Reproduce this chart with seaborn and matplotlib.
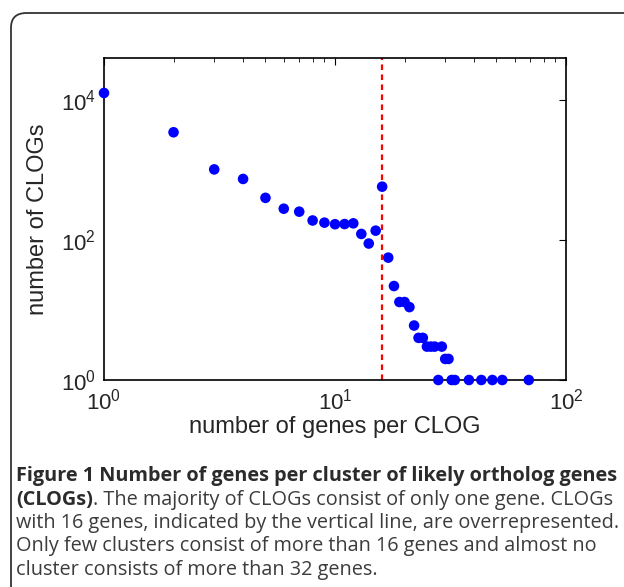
import numpy as np
import pandas as pd
import matplotlib
matplotlib.use('Agg')
import matplotlib.pyplot as plt
import seaborn as sns
from matplotlib.patches import FancyBboxPatch

# genes per CLOG vs number of CLOGs
genes_per_clog = [1, 2, 3, 4, 5, 6, 7, 8, 9, 10, 11, 12, 13, 14, 15, 16, 17, 18,
                  19, 20, 21, 22, 23, 24, 25, 26, 27, 29, 30, 31,
                  28, 32, 33, 38, 43, 48, 53, 69]
n_clogs = [12600, 3460, 1020, 745, 400, 280, 254, 190, 177, 168, 169, 173, 122, 89, 136, 578, 56, 22,
           13, 13, 11, 6, 4, 4, 3, 3, 3, 3, 2, 2,
           1, 1, 1, 1, 1, 1, 1, 1]
cutoff = 16

caption_lines = [
    [("Figure 1 Number of genes per cluster of likely ortholog genes", "bold")],
    [("(CLOGs)", "bold"), (". The majority of CLOGs consist of only one gene. CLOGs", "normal")],
    [("with 16 genes, indicated by the vertical line, are overrepresented.", "normal")],
    [("Only few clusters consist of more than 16 genes and almost no", "normal")],
    [("cluster consists of more than 32 genes.", "normal")],
]

df = pd.DataFrame({'genes': genes_per_clog, 'clogs': n_clogs})

sns.set_style("white")
plt.rcParams['font.family'] = ['Liberation Sans', 'DejaVu Sans']
plt.rcParams['mathtext.fontset'] = 'custom'
plt.rcParams['mathtext.rm'] = 'Liberation Sans'
plt.rcParams['mathtext.it'] = 'Liberation Sans'

fig = plt.figure(figsize=(6.24, 5.87), dpi=100)
fig.patch.set_facecolor('white')

# rounded frame around the figure
frame = FancyBboxPatch((11 / 624, -0.1), 1.2, 1.1 - 13 / 587,
                       boxstyle="round,pad=0,rounding_size=0.025",
                       transform=fig.transFigure, fill=False,
                       edgecolor='#333333', linewidth=1.3)
fig.patches.append(frame)

ax = fig.add_axes([104 / 624, 1 - 380 / 587, 462 / 624, 322 / 587])
ax.set_xscale('log')
ax.set_yscale('log')

ax.axvline(cutoff, color='red', linestyle=(0, (2.5, 2)), linewidth=1.6, zorder=1)
sns.scatterplot(data=df, x='genes', y='clogs', ax=ax, color='blue',
                s=58, edgecolor='none', zorder=3, clip_on=False, legend=False)

ax.set_xlim(1, 100)
ax.set_ylim(1, 10 ** 4.6)
ax.set_yticks([1, 100, 10000])
ax.set_xticks([1, 10, 100])
ax.yaxis.set_minor_locator(matplotlib.ticker.NullLocator())

for s in ax.spines.values():
    s.set_color('black')
    s.set_linewidth(1.2)
ax.tick_params(which='both', direction='in', top=True, right=True, color='black')
ax.tick_params(which='major', length=5, width=0.8, labelsize=16, pad=6)
ax.tick_params(which='minor', length=3, width=0.6)

ax.set_xlabel('number of genes per CLOG', fontsize=17, labelpad=1)
ax.set_ylabel('number of CLOGs', fontsize=17, labelpad=8)

# caption with bold/normal runs
y0 = 1 - 476 / 587
dy = 23.5 / 587
for i, runs in enumerate(caption_lines):
    last = None
    for text, weight in runs:
        kw = dict(fontsize=14.3, fontweight=weight,
                  color='#2b2b2b' if weight == 'bold' else '#3c3c3c',
                  family=['Open Sans', 'DejaVu Sans'], va='center')
        if last is None:
            last = fig.text(16 / 624, y0 - i * dy, text, ha='left', **kw)
        else:
            last = ax.annotate(text, xy=(1, 0.5), xycoords=last, ha='left',
                               annotation_clip=False, **kw)

fig.savefig('out.png', dpi=100)
